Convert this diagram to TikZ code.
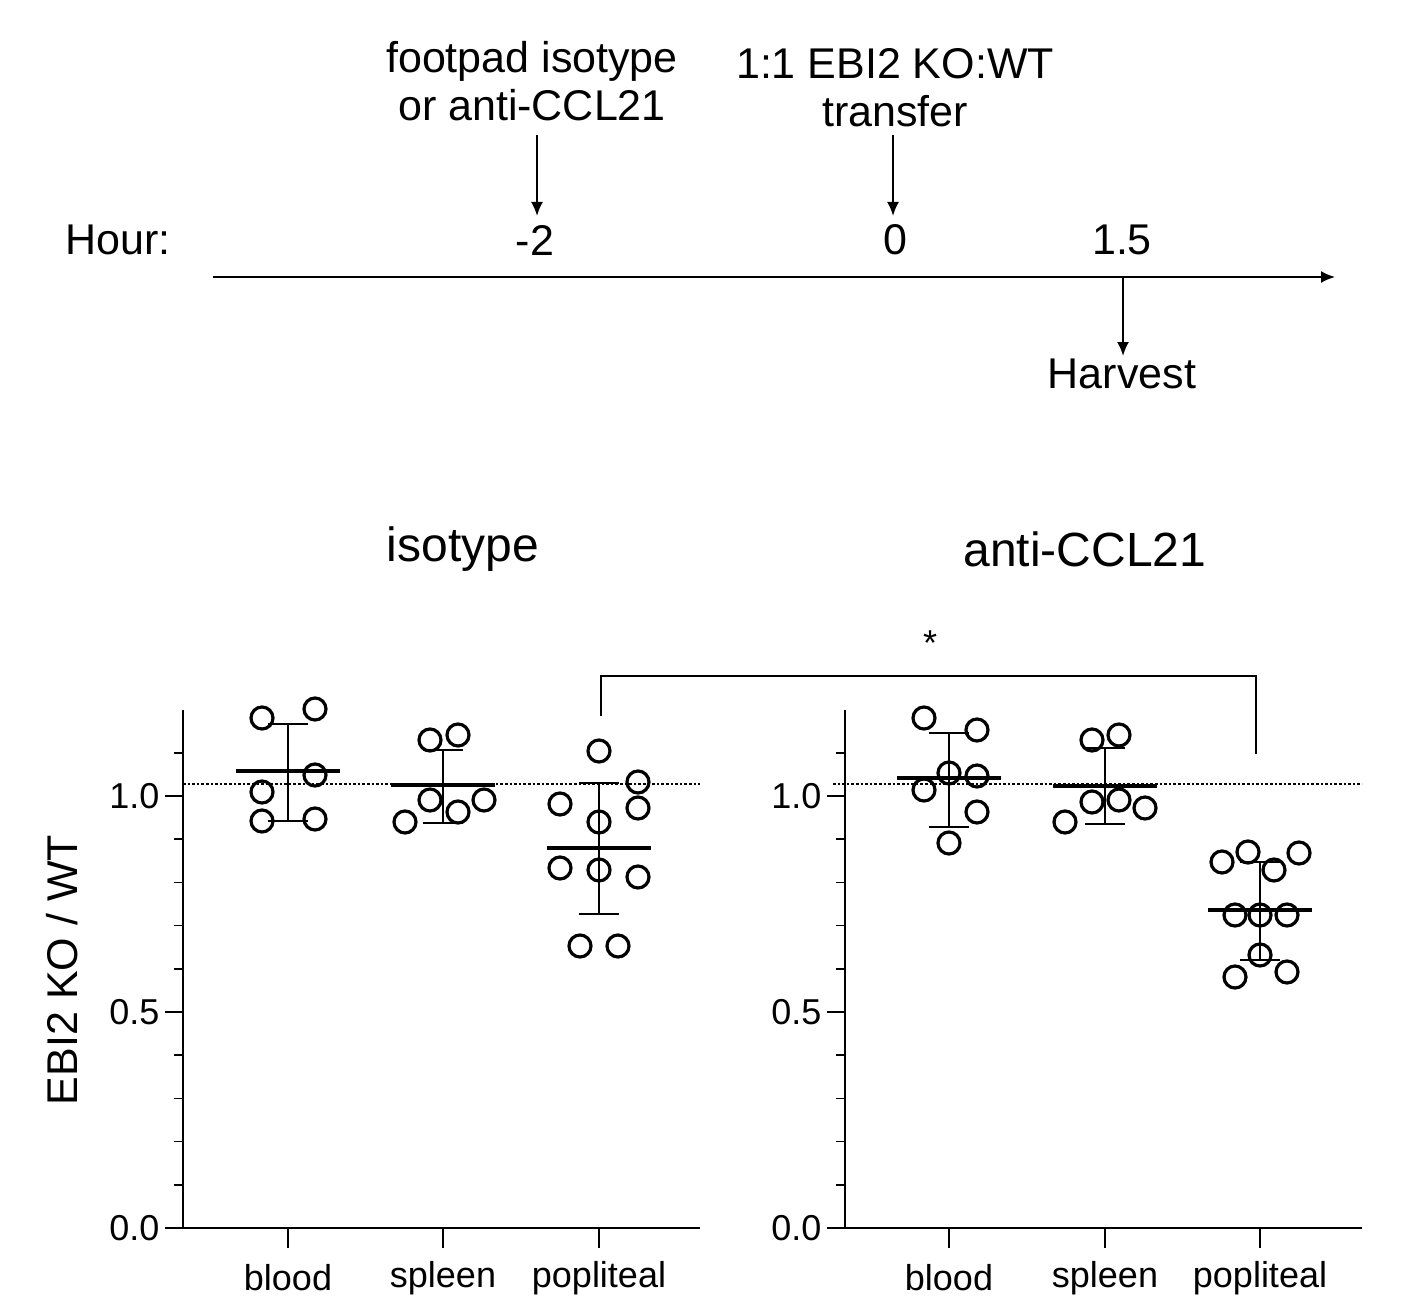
\documentclass[tikz,border=0pt]{standalone}
\usepackage{fontspec}
\setmainfont{Liberation Sans}
\begin{document}
\begin{tikzpicture}[x=1pt,y=-1pt,
  pt/.style={circle,draw,line width=3.2pt,minimum size=22pt,inner sep=0pt},
  ax/.style={line width=1.6pt},
  err/.style={line width=1.6pt},
  mean/.style={line width=3.2pt},
  lab/.style={font=\fontsize{36}{40}\selectfont},
  big/.style={font=\fontsize{43}{48}\selectfont,align=center},
  ttl/.style={font=\fontsize{48}{52}\selectfont},
  arr/.style={line width=2pt,-{Latex[length=14pt,width=12pt]}}]
\useasboundingbox (0,0) rectangle (1415,1313);
\usetikzlibrary{arrows.meta}
% timeline
\coordinate (t0) at (213,277); \coordinate (t1) at (1335,277);
\draw[arr] (t0) -- (t1);
\node[big] (hour) at (118,240) {Hour:};
\node[big] (m2) at (535,240) {-2};
\node[big] (z) at (895,240) {0};
\node[big] (h15) at (1122,240) {1.5};
\node[big] (fp) at (532,81) {footpad isotype\\or anti-CCL21};
\node[big] (tr) at (895,88) {1:1 EBI2 KO:WT\\transfer};
\node[big] (hv) at (1122,374) {Harvest};
\coordinate (a1) at (537,135); \coordinate (a1e) at (537,216);
\coordinate (a2) at (893,135); \coordinate (a2e) at (893,216);
\coordinate (a3) at (1123,277); \coordinate (a3e) at (1123,356);
\draw[arr] (a1) -- (a1e);
\draw[arr] (a2) -- (a2e);
\draw[arr] (a3) -- (a3e);
% titles
\node[ttl] (tiso) at (463,549) {isotype};
\node[ttl] (tanti) at (1085,549) {anti-CCL21};
\node[big,rotate=90] (ylab) at (62,970) {EBI2 KO / WT};
% axes
\foreach \ox/\ex/\ca/\cb/\cc in {183/700/288/443/599, 845/1362/949/1105/1260}{
  \draw[ax] (\ox,710) -- (\ox,1228) -- (\ex,1228);
  \foreach \i in {1,...,11}{ \draw[ax] (\ox,1228-43.2*\i) -- (\ox-9,1228-43.2*\i); }
  \foreach \v/\l in {0/0.0,5/0.5,10/1.0}{
    \draw[ax] (\ox,1228-43.2*\v) -- (\ox-18,1228-43.2*\v);
    \node[lab,anchor=east] at (\ox-20,1228-43.2*\v) {\l};}
  \foreach \c in {\ca,\cb,\cc}{ \draw[ax] (\c,1228) -- (\c,1248); }
  \node[lab] at (\ca,1278) {blood};
  \node[lab] at (\cb,1278) {spleen};
  \node[lab] at (\cc,1278) {popliteal};
}
\draw[line width=2.6pt,dotted] (183,784) -- (700,784);
\draw[line width=2.6pt,dotted] (833,784) -- (1362,784);
% error bars: x, lo, hi, mean, half-width
\foreach \x/\hi/\lo/\m in {288/724/821/771, 443/750/823/785, 599/783/914/848, 949/733/827/778, 1105/748/824/786, 1260/862/960/910}{
  \draw[err] (\x,\hi) -- (\x,\lo);
  \draw[err] (\x-20,\hi) -- (\x+20,\hi);
  \draw[err] (\x-20,\lo) -- (\x+20,\lo);
  \draw[mean] (\x-52,\m) -- (\x+52,\m);
}
% points
\foreach \x/\y in {262/718,315/709,262/792,315/775,262/821,315/819,
  430/740,458/735,405/822,430/800,458/812,484/800,
  599/751,560/804,638/782,638/808,599/822,560/868,599/870,638/877,580/946,618/946,
  924/718,977/730,924/790,949/773,977/776,977/812,949/843,
  1092/740,1119/735,1065/822,1092/802,1119/800,1145/808,
  1222/862,1248/852,1299/853,1274/870,1235/915,1260/915,1287/915,1260/955,1235/977,1287/972}{
  \node[pt] at (\x,\y) {};
}
% bracket
\coordinate (b1) at (601,716); \coordinate (b2) at (1256,754);
\draw[line width=1.4pt] (b1) -- (601,676) -- (1256,676) -- (b2);
\node[lab] (star) at (930,643) {*};
\end{tikzpicture}
\end{document}
